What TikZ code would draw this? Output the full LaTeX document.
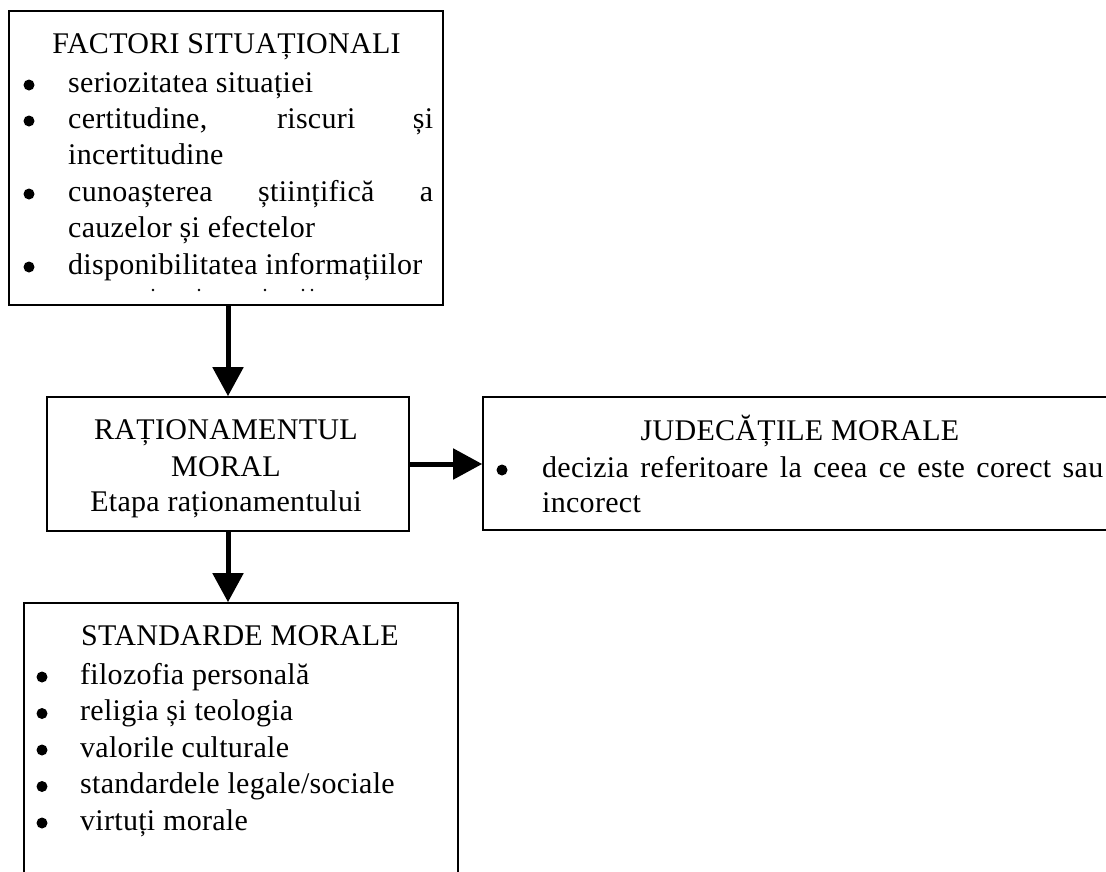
\documentclass[tikz,border=0pt]{standalone}
\usepackage{fontspec}
\setmainfont[LetterSpace=1]{Liberation Serif}
\usetikzlibrary{arrows.meta}
\begin{document}
\begin{tikzpicture}[x=1pt,y=-1pt,
  box/.style={draw,line width=1.6pt,inner sep=0pt},
  flow/.style={line width=5pt,-{Triangle[length=29pt,width=30pt]}},
  txt/.style={font=\fontsize{30}{36}\selectfont,inner sep=0pt,anchor=base west},
  ttl/.style={font=\fontsize{30}{36}\selectfont,inner sep=0pt,anchor=base},
  dot/.style={fill=black}]
\useasboundingbox (0,0) rectangle (1106,871);
\clip (0,0) rectangle (1106,871);

% frames
\node[box,minimum width=434pt,minimum height=294pt] (fs) at (226,158) {};
\node[box,minimum width=362pt,minimum height=134pt] (rm) at (228,464) {};
\node[box,minimum width=640pt,minimum height=133pt] (jm) at (803,463.5) {};
\node[box,minimum width=434pt,minimum height=300pt] (sm) at (241,753) {};

% connectors
\draw[flow] (fs.south -| rm.north) -- (rm.north);
\draw[flow] (rm.south) -- (rm.south |- sm.north);
\draw[flow] (rm.east) -- (rm.east -| jm.west);

% situational factors
\node[ttl] (fs-t) at (226.5,53) {FACTORI SITUAȚIONALI};
\node[txt] (fs-1) at (68,92) {seriozitatea situației};
\node[txt] (fs-2) at (68,128) {\makebox[365pt][s]{certitudine, riscuri și}};
\node[txt] (fs-2b) at (68,164) {incertitudine};
\node[txt] (fs-3) at (68,201) {\makebox[365pt][s]{cunoașterea științifică a}};
\node[txt] (fs-3b) at (68,237) {cauzelor și efectelor};
\node[txt] (fs-4) at (68,274) {disponibilitatea informațiilor};
\foreach \yy in {92,128,201,274} \fill[dot] (29,\yy-7) circle (5.5pt);
% tops of the cut-off line
\foreach \xx in {153,199,265,303,312} \fill[dot] (\xx,290) circle (1.4pt);

% moral reasoning
\node[ttl] (rm-1) at (226,439) {RAȚIONAMENTUL};
\node[ttl] (rm-2) at (226,476) {MORAL};
\node[ttl] (rm-3) at (226,511) {Etapa raționamentului};

% moral judgements
\node[ttl] (jm-t) at (800,440) {JUDECĂȚILE MORALE};
\node[txt] (jm-1) at (542,477) {\makebox[561pt][s]{decizia referitoare la ceea ce este corect sau}};
\node[txt] (jm-1b) at (542,512) {incorect};
\fill[dot] (502,470) circle (5.5pt);

% moral standards
\node[ttl] (sm-t) at (240,645) {STANDARDE MORALE};
\node[txt] (sm-1) at (80,684) {filozofia personală};
\node[txt] (sm-2) at (80,720.5) {religia și teologia};
\node[txt] (sm-3) at (80,757) {valorile culturale};
\node[txt] (sm-4) at (80,793.5) {standardele legale/sociale};
\node[txt] (sm-5) at (80,830) {virtuți morale};
\foreach \yy in {684,720.5,757,793.5,830} \fill[dot] (42,\yy-7) circle (5.5pt);
\end{tikzpicture}
\end{document}
